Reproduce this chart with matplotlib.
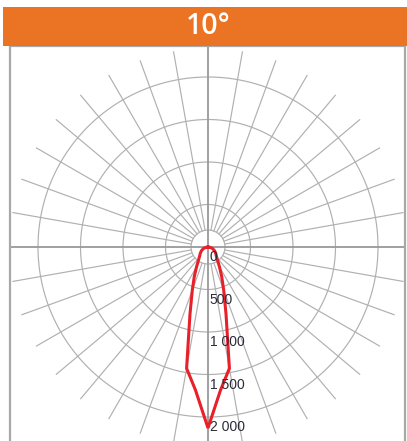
import numpy as np
import matplotlib.pyplot as plt
from matplotlib.patches import Rectangle

# ---------------------------------------------------------------
# datos (cd/klm) leidos de la curva fotometrica
# ---------------------------------------------------------------
titulo = "10°"
angulos = [0, 5, 10, 15, 20, 25, 30, 35, 40, 45, 50, 60, 70, 80, 90]
intensidad = [2130, 1690, 1450, 820, 540, 380, 270, 200, 160, 135, 120, 90, 60, 30, 0]
circulos = [500, 1000, 1500, 2000]
etiquetas = ["0", "500", "1 000", "1 500", "2 000"]
valores_etiqueta = [0, 500, 1000, 1500, 2000]
radio_centro = 200
radio_radios = 2330
paso_radios = 10

W, H = 407, 441
fig = plt.figure(figsize=(W / 100, H / 100), dpi=100)

# barra naranja de cabecera
fig.patches.append(Rectangle((3 / W, 1 - 45.5 / H), 404 / W, 38.5 / H,
                             transform=fig.transFigure, facecolor="#EB7424",
                             edgecolor="none", zorder=0))
fig.text(208 / W, 1 - 26 / H, titulo, color="white", fontsize=20.5,
         family="Open Sans", weight="semibold", ha="center", va="center")

ax = fig.add_axes([10 / W, 0, 395 / W, (H - 46) / H])
esc = 2000 / 170.0          # cd por pixel
ax.set_xlim(-198 * esc, 197 * esc)
ax.set_ylim(-194 * esc, 201 * esc)
ax.set_aspect("equal")
ax.set_xticks([]); ax.set_yticks([])
for lado in ["left", "right", "top"]:
    ax.spines[lado].set_color("#a8a8a8")
    ax.spines[lado].set_linewidth(1.6)
ax.spines["bottom"].set_visible(False)

gris = "#b0b0b0"
t = np.linspace(0, 2 * np.pi, 400)

# circulos de la rejilla
for r in [radio_centro] + circulos:
    ax.plot(r * np.cos(t), r * np.sin(t), color=gris, lw=0.85, zorder=1)

# radios cada 10 grados
for a in range(0, 360, paso_radios):
    if a % 90 == 0:
        continue
    th = np.radians(a)
    ax.plot([radio_centro * np.sin(th), radio_radios * np.sin(th)],
            [radio_centro * np.cos(th), radio_radios * np.cos(th)],
            color=gris, lw=0.85, zorder=1)

# ejes principales
ax.axhline(0, color="#999999", lw=1.3, zorder=2)
ax.axvline(0, color="#999999", lw=1.3, zorder=2)

# curva fotometrica (simetrica, 0 = nadir)
ang = np.radians(np.array([-a for a in angulos[::-1]] + angulos[1:]))
val = np.array(intensidad[::-1] + intensidad[1:])
ax.plot(val * np.sin(ang), -val * np.cos(ang), color="#E8202A", lw=2.2,
        zorder=3, solid_joinstyle="miter")

# etiquetas de intensidad
for v, txt in zip(valores_etiqueta, etiquetas):
    ax.text(20, -v - 40, txt, fontsize=10, family="Liberation Sans",
            color="#2b2b3a", ha="left", va="top", zorder=4)

fig.savefig("out.png", dpi=100)
